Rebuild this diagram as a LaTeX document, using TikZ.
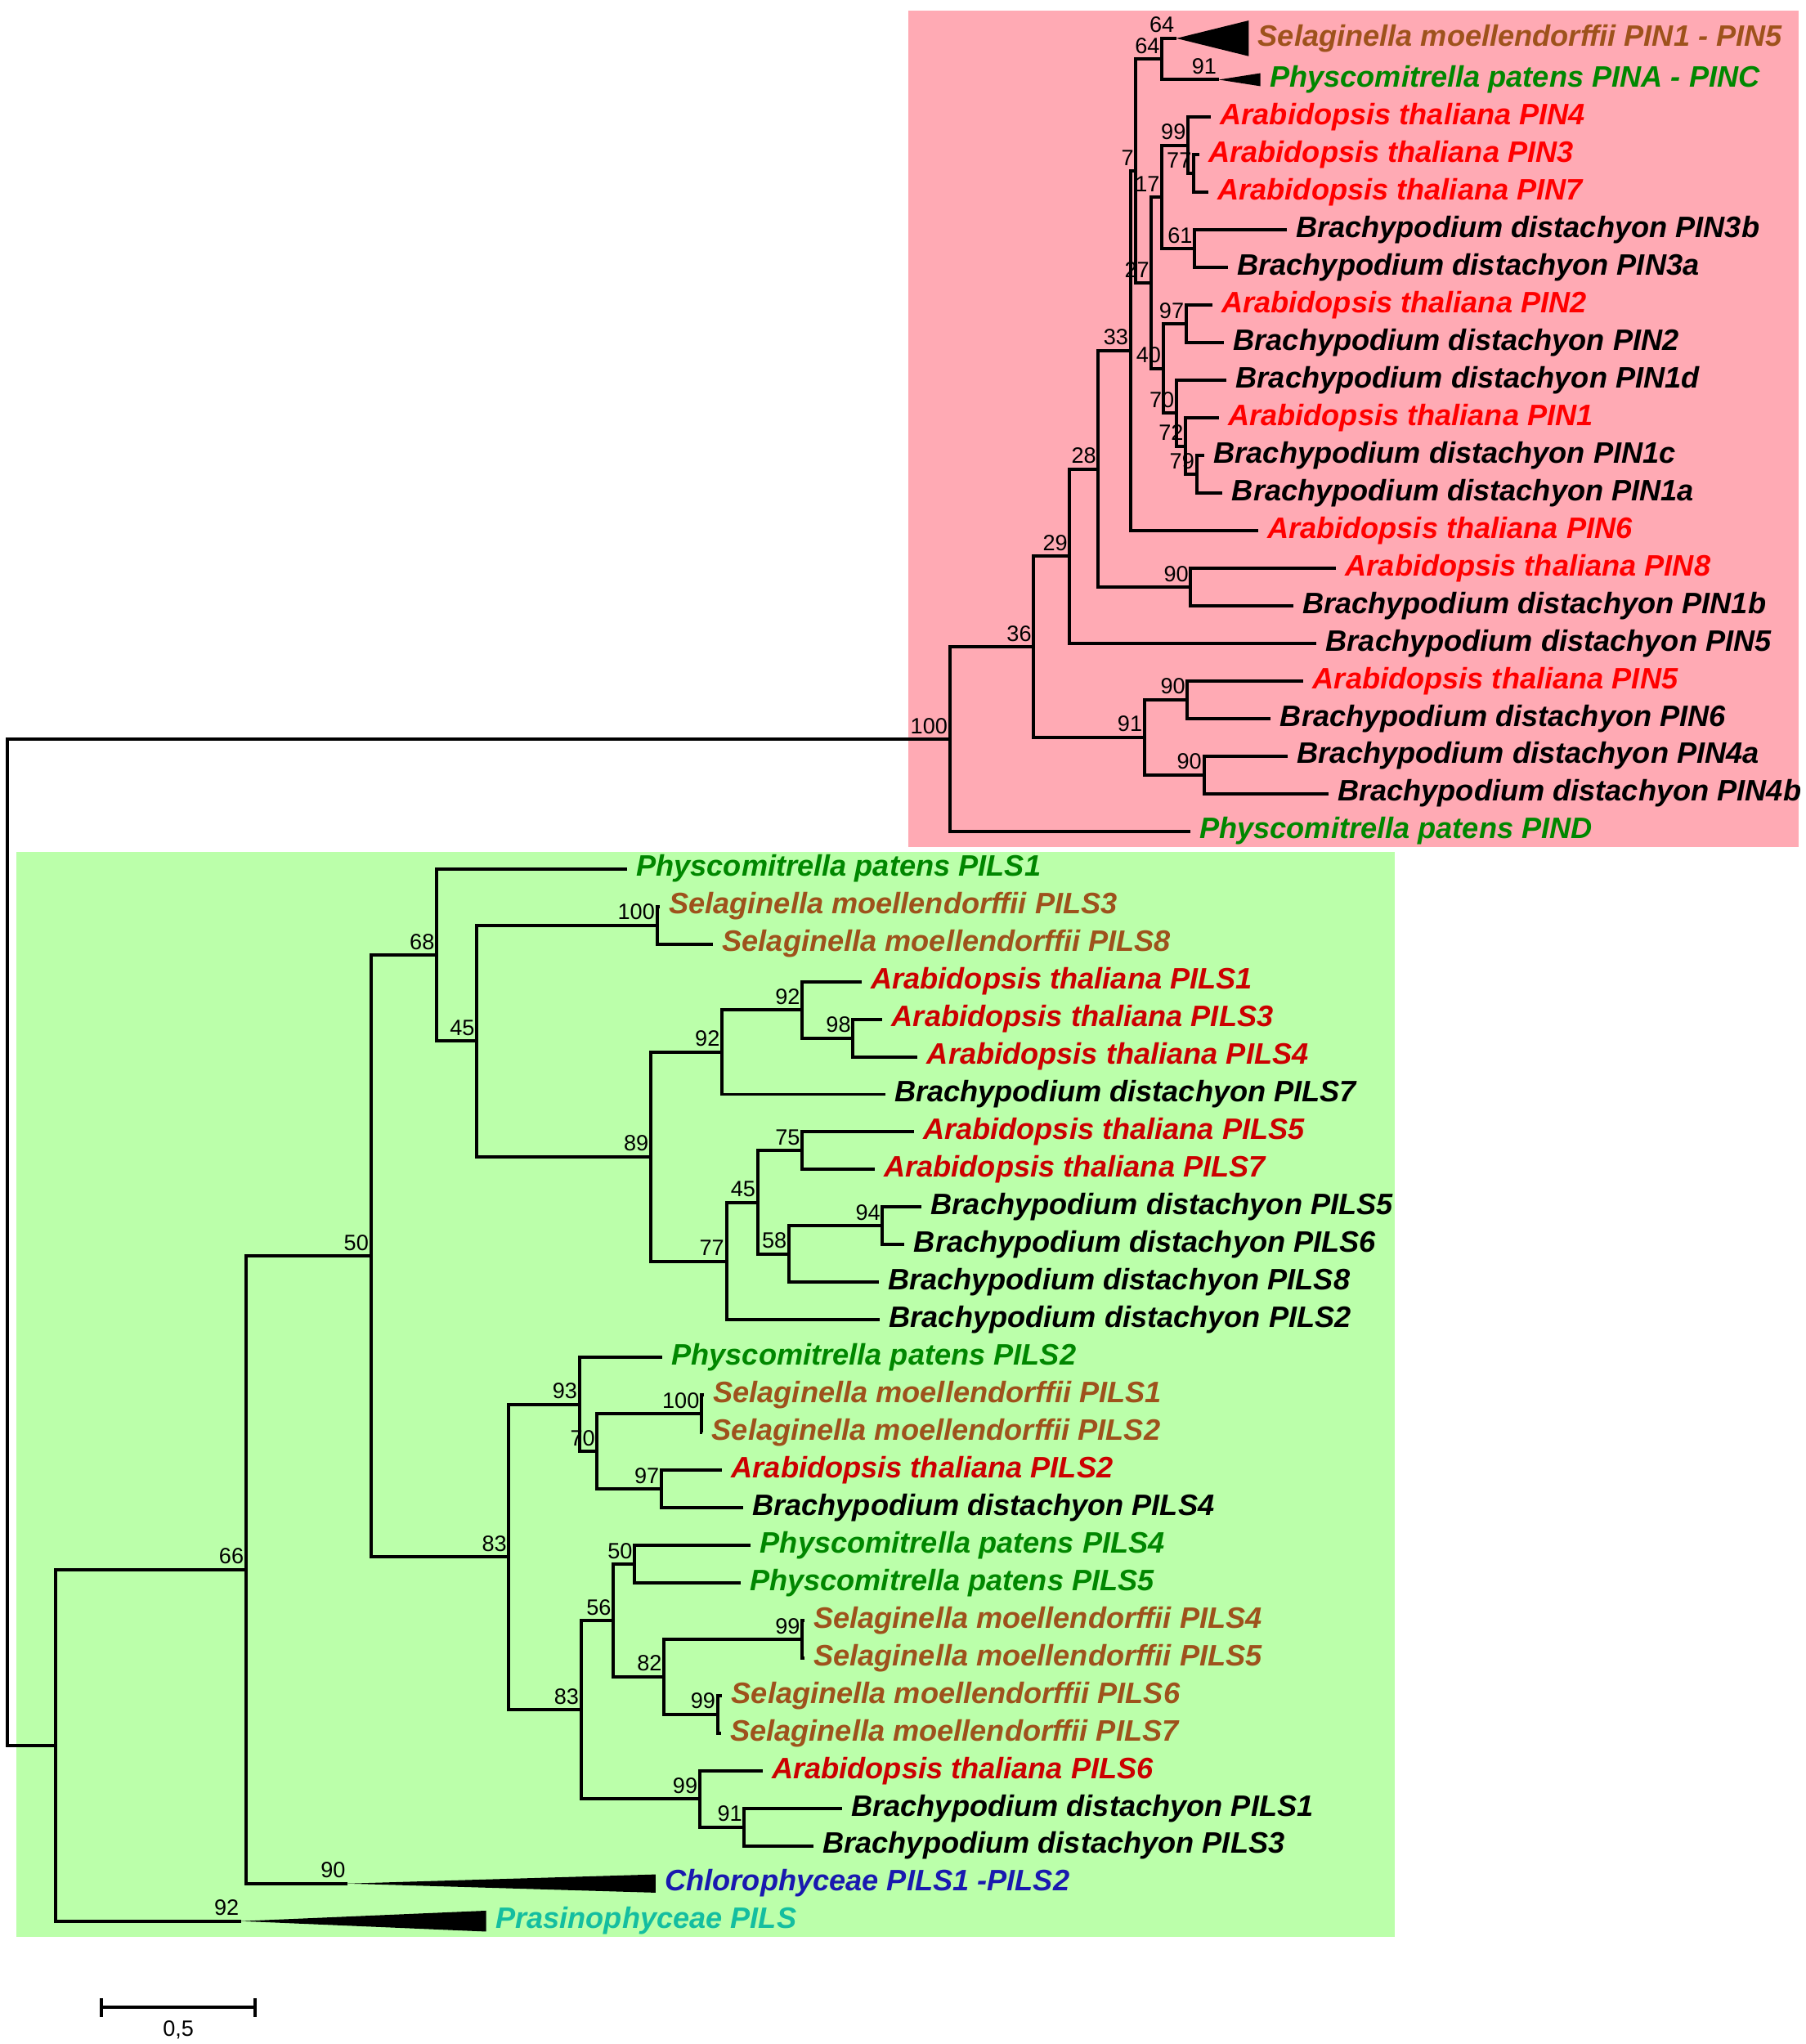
\documentclass[tikz,border=0pt]{standalone}
\usepackage{fontspec}
\setmainfont{Liberation Sans}
\usepackage{xcolor}
\usepackage{tikz}
\definecolor{pinbg}{RGB}{255,170,180}
\definecolor{pilsbg}{RGB}{187,255,170}
\definecolor{atred}{RGB}{255,0,0}
\definecolor{atdark}{RGB}{204,0,0}
\definecolor{selbrown}{RGB}{158,82,28}
\definecolor{physgreen}{RGB}{0,135,0}
\definecolor{chloblue}{RGB}{25,25,175}
\definecolor{prasteal}{RGB}{20,190,160}

\tikzset{
  branch/.style={line width=2.5pt},
  leaf/.style={anchor=west, inner xsep=7pt, inner ysep=0pt, text height=16.3pt, text depth=4.8pt,
    font=\fontsize{22.7}{27}\selectfont\bfseries\itshape},
  boot/.style={anchor=south east, inner xsep=1.5pt, inner ysep=4pt, font=\fontsize{17}{20}\selectfont},
  ath/.style={leaf, text=atred},
  athd/.style={leaf, text=atdark},
  bdi/.style={leaf, text=black},
  selm/.style={leaf, text=selbrown},
  phys/.style={leaf, text=physgreen},
  chlo/.style={leaf, text=chloblue},
  pras/.style={leaf, text=prasteal}
}

\begin{document}
\begin{tikzpicture}[x=1pt, y=-28.83pt]
    \useasboundingbox (0,-1.12) rectangle (1385,53.27);

    % Backgrounds
    \fill[pinbg] (696.7,-0.84) rectangle (1380,21.42);
    \fill[pilsbg] (12.3,21.56) rectangle (1070,50.42);

    % Inner nodes of the PIN clade
    \coordinate (root) at (5.5,31.94);
    \coordinate (n100) at (728.6,18.55);
    \coordinate (n36) at (793,16.09);
    \coordinate (n29) at (820.7,13.68);
    \coordinate (n28) at (842.6,11.36);
    \coordinate (n33) at (867.3,8.21);
    \coordinate (n7) at (871.5,3.43);
    \coordinate (n64) at (891.4,0.45);
    \coordinate (selapex) at (902.5,-0.1);
    \coordinate (physapex) at (935,1);
    \coordinate (n27) at (883.4,6.406);
    \coordinate (n17) at (891.4,4.125);
    \coordinate (n99) at (911.4,2.75);
    \coordinate (n77) at (915.8,3.5);
    \coordinate (n61) at (916.5,5.5);
    \coordinate (n40) at (892.3,8.6875);
    \coordinate (n97) at (910,7.5);
    \coordinate (n70) at (902.5,9.875);
    \coordinate (n72) at (909.6,10.75);
    \coordinate (n79) at (918,11.5);
    \coordinate (n90a) at (913.5,14.5);
    \coordinate (n91) at (878,18.5);
    \coordinate (n90b) at (911,17.5);
    \coordinate (n90c) at (923.6,19.5);

    % Inner nodes of the PILS clade
    \coordinate (groot) at (42.4,45.33);
    \coordinate (n66) at (188.7,40.65);
    \coordinate (n50) at (284.5,32.3);
    \coordinate (n68) at (335,24.29);
    \coordinate (n45) at (365.8,26.58);
    \coordinate (n100g) at (504,23.5);
    \coordinate (n89) at (499.2,29.66);
    \coordinate (n92a) at (553.9,26.875);
    \coordinate (n92b) at (615.4,25.75);
    \coordinate (n98) at (654.4,26.5);
    \coordinate (n77g) at (557.3,32.44);
    \coordinate (n45b) at (581.2,30.875);
    \coordinate (n75) at (615.4,29.5);
    \coordinate (n58) at (605.2,32.25);
    \coordinate (n94) at (677,31.5);
    \coordinate (n83a) at (390.4,40.31);
    \coordinate (n93) at (444.5,36.25);
    \coordinate (n70g) at (458.1,37.5);
    \coordinate (n100h) at (538.2,36.5);
    \coordinate (n97g) at (507.4,38.5);
    \coordinate (n83b) at (445.8,44.375);
    \coordinate (n56) at (470.5,42);
    \coordinate (n50b) at (486.9,40.5);
    \coordinate (n82) at (509.4,43.5);
    \coordinate (n99a) at (615.4,42.5);
    \coordinate (n99b) at (550.5,44.5);
    \coordinate (n99c) at (536.8,46.75);
    \coordinate (n91g) at (571,47.5);
    \coordinate (chloapex) at (266.7,49);
    \coordinate (prasapex) at (185,50);

    % PIN leaves
    \node[selm] (selPIN) at (958,-0.1) {Selaginella moellendorffii PIN1 - PIN5};
    \node[phys] (physPINA) at (967,1) {Physcomitrella patens PINA - PINC};
    \node[ath] (atPIN4) at (929,2) {Arabidopsis thaliana PIN4};
    \node[ath] (atPIN3) at (920,3) {Arabidopsis thaliana PIN3};
    \node[ath] (atPIN7) at (927,4) {Arabidopsis thaliana PIN7};
    \node[bdi] (bdPIN3b) at (987,5) {Brachypodium distachyon PIN3b};
    \node[bdi] (bdPIN3a) at (942,6) {Brachypodium distachyon PIN3a};
    \node[ath] (atPIN2) at (930,7) {Arabidopsis thaliana PIN2};
    \node[bdi] (bdPIN2) at (939,8) {Brachypodium distachyon PIN2};
    \node[bdi] (bdPIN1d) at (941,9) {Brachypodium distachyon PIN1d};
    \node[ath] (atPIN1) at (935,10) {Arabidopsis thaliana PIN1};
    \node[bdi] (bdPIN1c) at (924,11) {Brachypodium distachyon PIN1c};
    \node[bdi] (bdPIN1a) at (938,12) {Brachypodium distachyon PIN1a};
    \node[ath] (atPIN6) at (965,13) {Arabidopsis thaliana PIN6};
    \node[ath] (atPIN8) at (1025,14) {Arabidopsis thaliana PIN8};
    \node[bdi] (bdPIN1b) at (992,15) {Brachypodium distachyon PIN1b};
    \node[bdi] (bdPIN5) at (1010,16) {Brachypodium distachyon PIN5};
    \node[ath] (atPIN5) at (1000,17) {Arabidopsis thaliana PIN5};
    \node[bdi] (bdPIN6) at (975,18) {Brachypodium distachyon PIN6};
    \node[bdi] (bdPIN4a) at (988,19) {Brachypodium distachyon PIN4a};
    \node[bdi] (bdPIN4b) at (1019,20) {Brachypodium distachyon PIN4b};
    \node[phys] (physPIND) at (913,21) {Physcomitrella patens PIND};

    % PILS leaves
    \node[phys] (physPILS1) at (481,22) {Physcomitrella patens PILS1};
    \node[selm] (selPILS3) at (506,23) {Selaginella moellendorffii PILS3};
    \node[selm] (selPILS8) at (547,24) {Selaginella moellendorffii PILS8};
    \node[athd] (atPILS1) at (661,25) {Arabidopsis thaliana PILS1};
    \node[athd] (atPILS3) at (677,26) {Arabidopsis thaliana PILS3};
    \node[athd] (atPILS4) at (704,27) {Arabidopsis thaliana PILS4};
    \node[bdi] (bdPILS7) at (679,28) {Brachypodium distachyon PILS7};
    \node[athd] (atPILS5) at (701,29) {Arabidopsis thaliana PILS5};
    \node[athd] (atPILS7) at (671,30) {Arabidopsis thaliana PILS7};
    \node[bdi] (bdPILS5) at (707,31) {Brachypodium distachyon PILS5};
    \node[bdi] (bdPILS6) at (694,32) {Brachypodium distachyon PILS6};
    \node[bdi] (bdPILS8) at (674,33) {Brachypodium distachyon PILS8};
    \node[bdi] (bdPILS2) at (675,34) {Brachypodium distachyon PILS2};
    \node[phys] (physPILS2) at (508,35) {Physcomitrella patens PILS2};
    \node[selm] (selPILS1) at (540,36) {Selaginella moellendorffii PILS1};
    \node[selm] (selPILS2) at (539,37) {Selaginella moellendorffii PILS2};
    \node[athd] (atPILS2) at (554,38) {Arabidopsis thaliana PILS2};
    \node[bdi] (bdPILS4) at (570,39) {Brachypodium distachyon PILS4};
    \node[phys] (physPILS4) at (576,40) {Physcomitrella patens PILS4};
    \node[phys] (physPILS5) at (568,41) {Physcomitrella patens PILS5};
    \node[selm] (selPILS4) at (617,42) {Selaginella moellendorffii PILS4};
    \node[selm] (selPILS5) at (617,43) {Selaginella moellendorffii PILS5};
    \node[selm] (selPILS6) at (554,44) {Selaginella moellendorffii PILS6};
    \node[selm] (selPILS7) at (553,45) {Selaginella moellendorffii PILS7};
    \node[athd] (atPILS6) at (585,46) {Arabidopsis thaliana PILS6};
    \node[bdi] (bdPILS1) at (646,47) {Brachypodium distachyon PILS1};
    \node[bdi] (bdPILS3) at (624,48) {Brachypodium distachyon PILS3};
    \node[chlo] (chloPILS) at (503,49) {Chlorophyceae PILS1 -PILS2};
    \node[pras] (prasPILS) at (373,50) {Prasinophyceae PILS};

    % Root
    \draw[branch] (root) |- (n100);
    \draw[branch] (root) |- (groot);

    % PIN branches
    \draw[branch] (n100) |- (n36);
    \draw[branch] (n100) |- (physPIND.west);
    \draw[branch] (n36) |- (n29);
    \draw[branch] (n36) |- (n91);
    \draw[branch] (n29) |- (n28);
    \draw[branch] (n29) |- (bdPIN5.west);
    \draw[branch] (n28) |- (n33);
    \draw[branch] (n28) |- (n90a);
    \draw[branch] (n33) |- (n7);
    \draw[branch] (n33) |- (atPIN6.west);
    \draw[branch] (n7) |- (n64);
    \draw[branch] (n7) |- (n27);
    \draw[branch] (n64) |- (selapex);
    \draw[branch] (n64) |- (physapex);
    \draw[branch] (n27) |- (n17);
    \draw[branch] (n27) |- (n40);
    \draw[branch] (n17) |- (n99);
    \draw[branch] (n17) |- (n61);
    \draw[branch] (n99) |- (atPIN4.west);
    \draw[branch] (n99) |- (n77);
    \draw[branch] (n77) |- (atPIN3.west);
    \draw[branch] (n77) |- (atPIN7.west);
    \draw[branch] (n61) |- (bdPIN3b.west);
    \draw[branch] (n61) |- (bdPIN3a.west);
    \draw[branch] (n40) |- (n97);
    \draw[branch] (n40) |- (n70);
    \draw[branch] (n97) |- (atPIN2.west);
    \draw[branch] (n97) |- (bdPIN2.west);
    \draw[branch] (n70) |- (bdPIN1d.west);
    \draw[branch] (n70) |- (n72);
    \draw[branch] (n72) |- (atPIN1.west);
    \draw[branch] (n72) |- (n79);
    \draw[branch] (n79) |- (bdPIN1c.west);
    \draw[branch] (n79) |- (bdPIN1a.west);
    \draw[branch] (n90a) |- (atPIN8.west);
    \draw[branch] (n90a) |- (bdPIN1b.west);
    \draw[branch] (n91) |- (n90b);
    \draw[branch] (n91) |- (n90c);
    \draw[branch] (n90b) |- (atPIN5.west);
    \draw[branch] (n90b) |- (bdPIN6.west);
    \draw[branch] (n90c) |- (bdPIN4a.west);
    \draw[branch] (n90c) |- (bdPIN4b.west);

    % PILS branches
    \draw[branch] (groot) |- (n66);
    \draw[branch] (groot) |- (prasapex);
    \draw[branch] (n66) |- (n50);
    \draw[branch] (n66) |- (chloapex);
    \draw[branch] (n50) |- (n68);
    \draw[branch] (n50) |- (n83a);
    \draw[branch] (n68) |- (physPILS1.west);
    \draw[branch] (n68) |- (n45);
    \draw[branch] (n45) |- (n100g);
    \draw[branch] (n45) |- (n89);
    \draw[branch] (n100g) |- (selPILS3.west);
    \draw[branch] (n100g) |- (selPILS8.west);
    \draw[branch] (n89) |- (n92a);
    \draw[branch] (n89) |- (n77g);
    \draw[branch] (n92a) |- (n92b);
    \draw[branch] (n92a) |- (bdPILS7.west);
    \draw[branch] (n92b) |- (atPILS1.west);
    \draw[branch] (n92b) |- (n98);
    \draw[branch] (n98) |- (atPILS3.west);
    \draw[branch] (n98) |- (atPILS4.west);
    \draw[branch] (n77g) |- (n45b);
    \draw[branch] (n77g) |- (bdPILS2.west);
    \draw[branch] (n45b) |- (n75);
    \draw[branch] (n45b) |- (n58);
    \draw[branch] (n75) |- (atPILS5.west);
    \draw[branch] (n75) |- (atPILS7.west);
    \draw[branch] (n58) |- (n94);
    \draw[branch] (n58) |- (bdPILS8.west);
    \draw[branch] (n94) |- (bdPILS5.west);
    \draw[branch] (n94) |- (bdPILS6.west);
    \draw[branch] (n83a) |- (n93);
    \draw[branch] (n83a) |- (n83b);
    \draw[branch] (n93) |- (physPILS2.west);
    \draw[branch] (n93) |- (n70g);
    \draw[branch] (n70g) |- (n100h);
    \draw[branch] (n70g) |- (n97g);
    \draw[branch] (n100h) |- (selPILS1.west);
    \draw[branch] (n100h) |- (selPILS2.west);
    \draw[branch] (n97g) |- (atPILS2.west);
    \draw[branch] (n97g) |- (bdPILS4.west);
    \draw[branch] (n83b) |- (n56);
    \draw[branch] (n83b) |- (n99c);
    \draw[branch] (n56) |- (n50b);
    \draw[branch] (n56) |- (n82);
    \draw[branch] (n50b) |- (physPILS4.west);
    \draw[branch] (n50b) |- (physPILS5.west);
    \draw[branch] (n82) |- (n99a);
    \draw[branch] (n82) |- (n99b);
    \draw[branch] (n99a) |- (selPILS4.west);
    \draw[branch] (n99a) |- (selPILS5.west);
    \draw[branch] (n99b) |- (selPILS6.west);
    \draw[branch] (n99b) |- (selPILS7.west);
    \draw[branch] (n99c) |- (atPILS6.west);
    \draw[branch] (n99c) |- (n91g);
    \draw[branch] (n91g) |- (bdPILS1.west);
    \draw[branch] (n91g) |- (bdPILS3.west);

    % Collapsed clades
    \fill (selapex) -- ([yshift=13.7pt]selPIN.west) -- ([yshift=-13.7pt]selPIN.west) -- cycle;
    \fill (physapex) -- ([yshift=5pt]physPINA.west) -- ([yshift=-5pt]physPINA.west) -- cycle;
    \fill (chloapex) -- ([yshift=7pt]chloPILS.west) -- ([yshift=-7pt]chloPILS.west) -- cycle;
    \fill (prasapex) -- ([yshift=8pt]prasPILS.west) -- ([yshift=-8pt]prasPILS.west) -- cycle;

    % Bootstrap values
    \node[boot] (l100) at (n100) {100};
    \node[boot] (l36) at (n36) {36};
    \node[boot] (l29) at (n29) {29};
    \node[boot] (l28) at (n28) {28};
    \node[boot] (l33) at (n33) {33};
    \node[boot] (l7) at (n7) {7};
    \node[boot] (l64) at (n64) {64};
    \node[boot] (lsel) at (selapex) {64};
    \node[boot] (lphys) at (physapex) {91};
    \node[boot] (l27) at (n27) {27};
    \node[boot] (l17) at (n17) {17};
    \node[boot] (l99) at (n99) {99};
    \node[boot] (l77) at (n77) {77};
    \node[boot] (l61) at (n61) {61};
    \node[boot] (l40) at (n40) {40};
    \node[boot] (l97) at (n97) {97};
    \node[boot] (l70) at (n70) {70};
    \node[boot] (l72) at (n72) {72};
    \node[boot] (l79) at (n79) {79};
    \node[boot] (l90a) at (n90a) {90};
    \node[boot] (l91) at (n91) {91};
    \node[boot] (l90b) at (n90b) {90};
    \node[boot] (l90c) at (n90c) {90};

    \node[boot] (l66) at (n66) {66};
    \node[boot] (l50) at (n50) {50};
    \node[boot] (l68) at (n68) {68};
    \node[boot] (l45) at (n45) {45};
    \node[boot] (l100g) at (n100g) {100};
    \node[boot] (l89) at (n89) {89};
    \node[boot] (l92a) at (n92a) {92};
    \node[boot] (l92b) at (n92b) {92};
    \node[boot] (l98) at (n98) {98};
    \node[boot] (l77g) at (n77g) {77};
    \node[boot] (l45b) at (n45b) {45};
    \node[boot] (l75) at (n75) {75};
    \node[boot] (l58) at (n58) {58};
    \node[boot] (l94) at (n94) {94};
    \node[boot] (l83a) at (n83a) {83};
    \node[boot] (l93) at (n93) {93};
    \node[boot] (l70g) at (n70g) {70};
    \node[boot] (l100h) at (n100h) {100};
    \node[boot] (l97g) at (n97g) {97};
    \node[boot] (l83b) at (n83b) {83};
    \node[boot] (l56) at (n56) {56};
    \node[boot] (l50b) at (n50b) {50};
    \node[boot] (l82) at (n82) {82};
    \node[boot] (l99a) at (n99a) {99};
    \node[boot] (l99b) at (n99b) {99};
    \node[boot] (l99c) at (n99c) {99};
    \node[boot] (l91g) at (n91g) {91};
    \node[boot] (lchlo) at (chloapex) {90};
    \node[boot] (lpras) at (prasapex) {92};

    % Scale bar
    \coordinate (sbL) at (78,52.3);
    \coordinate (sbR) at (195.5,52.3);
    \draw[branch] (sbL) -- (sbR);
    \draw[branch] ([yshift=7pt]sbL) -- ([yshift=-7pt]sbL);
    \draw[branch] ([yshift=7pt]sbR) -- ([yshift=-7pt]sbR);
    \node[anchor=north, inner sep=0pt, font=\fontsize{17}{20}\selectfont] (sblab) at (136.8,52.64) {0,5};
\end{tikzpicture}
\end{document}
